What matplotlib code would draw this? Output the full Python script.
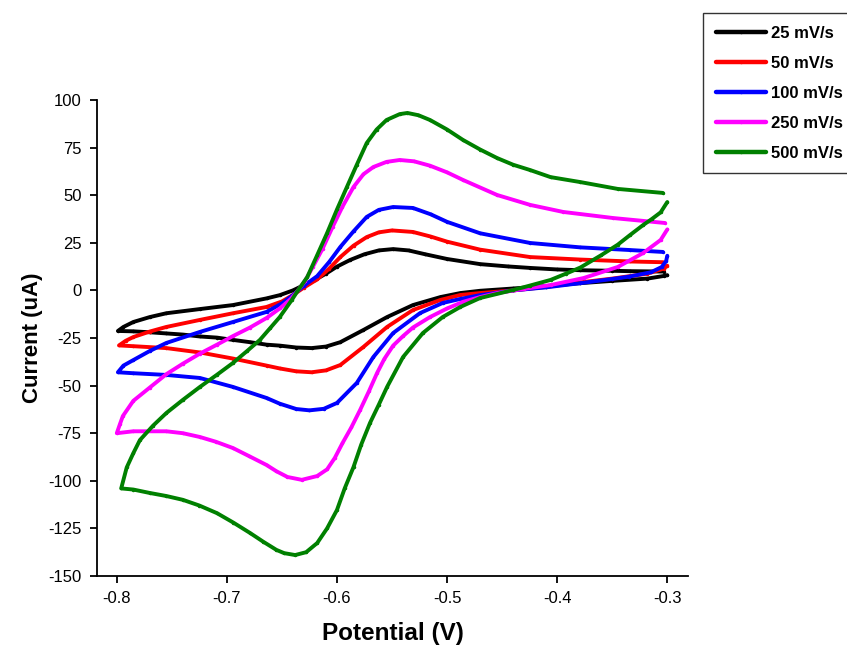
import matplotlib
matplotlib.use('Agg')
import matplotlib.pyplot as plt

# scan rates shown in the legend
labels = ['25 mV/s', '50 mV/s', '100 mV/s', '250 mV/s', '500 mV/s']
colors = ['#000000', '#ff0000', '#0000ff', '#ff00ff', '#008000']

# each scan: reverse sweep (-0.3 -> -0.8) then forward sweep (-0.8 -> -0.3)
v25 = [-0.300, -0.303, -0.318, -0.350, -0.379, -0.403, -0.440, -0.470, -0.488, -0.506, -0.531, -0.5545,
       -0.576, -0.597, -0.610, -0.623, -0.637, -0.652, -0.664, -0.679, -0.6945, -0.709, -0.7245, -0.740,
       -0.755, -0.770, -0.785, -0.799,
       -0.794, -0.785, -0.770, -0.755, -0.7245, -0.6945, -0.664, -0.652, -0.640, -0.630, -0.620, -0.610,
       -0.600, -0.588, -0.575, -0.562, -0.549, -0.535, -0.520, -0.500, -0.470, -0.445, -0.4245, -0.400,
       -0.379, -0.350, -0.334, -0.303]
i25 = [8.0, 7.6, 6.2, 5.0, 3.8, 2.6, 1.0, -0.2, -1.4, -3.5, -7.7, -14.0,
       -20.8, -27.2, -29.5, -30.3, -30.0, -29.0, -28.5, -27.2, -26.0, -24.8, -24.2, -23.2,
       -22.6, -22.0, -21.5, -21.3,
       -19.2, -16.6, -14.0, -12.0, -9.8, -7.7, -4.2, -2.5, 0.0, 2.8, 5.5, 8.8,
       12.5, 16.0, 19.0, 21.0, 21.7, 21.0, 19.0, 16.5, 13.8, 12.6, 11.8, 11.0,
       10.6, 10.3, 10.1, 9.9]

v50 = [-0.300, -0.303, -0.318, -0.350, -0.379, -0.410, -0.440, -0.470, -0.488, -0.506, -0.531, -0.5545,
       -0.576, -0.597, -0.610, -0.623, -0.637, -0.652, -0.664, -0.6945, -0.7245, -0.755, -0.785, -0.798,
       -0.792, -0.785, -0.770, -0.755, -0.7245, -0.6945, -0.664, -0.650, -0.640, -0.630, -0.618, -0.607,
       -0.597, -0.585, -0.573, -0.562, -0.550, -0.531, -0.515, -0.500, -0.470, -0.4245, -0.379, -0.334,
       -0.304]
i50 = [13.0, 11.5, 8.8, 6.2, 4.2, 1.8, 0.0, -1.4, -2.4, -5.0, -10.3, -19.2,
       -29.7, -39.2, -42.0, -43.0, -42.5, -41.0, -39.5, -35.8, -32.6, -30.3, -29.3, -28.9,
       -26.5, -24.5, -21.6, -19.2, -15.5, -12.0, -8.7, -5.8, -2.4, 1.5, 5.8, 11.5,
       17.5, 23.5, 28.0, 30.5, 31.5, 30.7, 28.3, 25.6, 21.4, 17.5, 16.2, 15.2,
       14.8]

v100 = [-0.300, -0.301, -0.305, -0.315, -0.335, -0.350, -0.379, -0.410, -0.440, -0.470, -0.488, -0.504,
        -0.5245, -0.549, -0.567, -0.582, -0.600, -0.612, -0.625, -0.637, -0.652, -0.664, -0.6945, -0.7245,
        -0.755, -0.785, -0.799,
        -0.794, -0.785, -0.770, -0.755, -0.7245, -0.6945, -0.664, -0.650, -0.640, -0.630, -0.618, -0.607,
        -0.597, -0.585, -0.573, -0.562, -0.549, -0.531, -0.515, -0.500, -0.470, -0.4245, -0.379, -0.334,
        -0.304]
i100 = [18.2, 15.5, 12.3, 9.5, 7.2, 6.0, 3.8, 1.6, 0.0, -2.5, -4.5, -6.6,
        -11.9, -22.4, -35.0, -48.6, -59.1, -62.2, -63.0, -62.3, -59.5, -56.5, -50.7, -46.0,
        -44.4, -43.5, -43.0,
        -39.5, -36.6, -31.8, -27.6, -21.8, -16.6, -11.3, -6.8, -2.5, 2.5, 7.5, 15.0,
        22.8, 31.0, 38.6, 42.3, 43.8, 43.3, 40.0, 36.0, 30.0, 24.9, 22.6, 21.2,
        20.2]

v250 = [-0.300, -0.306, -0.322, -0.345, -0.376, -0.406, -0.430, -0.4545, -0.470, -0.4855, -0.500, -0.5155,
        -0.531, -0.540, -0.549, -0.557, -0.5636, -0.571, -0.579, -0.587, -0.595, -0.602, -0.609, -0.618,
        -0.632, -0.645, -0.655, -0.664, -0.680, -0.6945, -0.710, -0.7245, -0.740, -0.755, -0.785, -0.800,
        -0.797, -0.7945, -0.785, -0.770, -0.755, -0.740, -0.7245, -0.709, -0.6945, -0.679, -0.664, -0.652,
        -0.642, -0.636, -0.629, -0.622, -0.613, -0.604, -0.595, -0.585, -0.576, -0.567, -0.555, -0.543,
        -0.530, -0.5155, -0.500, -0.4855, -0.4545, -0.4245, -0.3945, -0.349, -0.302]
i250 = [32.0, 26.5, 19.6, 12.3, 6.5, 2.8, 0.8, -1.4, -3.5, -6.0, -9.5, -14.0,
        -19.5, -24.0, -29.0, -36.0, -43.4, -53.0, -62.8, -72.0, -80.2, -88.0, -94.0, -97.5,
        -99.5, -98.0, -95.0, -91.7, -87.0, -82.8, -79.5, -77.0, -75.0, -74.0, -74.0, -75.0,
        -70.0, -66.0, -58.0, -51.0, -44.0, -38.5, -33.2, -28.5, -24.0, -19.5, -14.5, -9.5,
        -4.5, -0.5, 5.0, 12.3, 22.0, 33.3, 44.0, 54.3, 61.0, 64.8, 67.5, 68.5,
        67.8, 65.5, 62.0, 58.0, 50.1, 44.9, 41.2, 38.0, 35.4]

v500 = [-0.300, -0.306, -0.314, -0.322, -0.334, -0.345, -0.360, -0.379, -0.392, -0.406, -0.425, -0.440,
        -0.470, -0.488, -0.504, -0.522, -0.540, -0.5545, -0.562, -0.570, -0.578, -0.585, -0.593, -0.600,
        -0.609, -0.618, -0.628, -0.638, -0.648, -0.655, -0.667, -0.679, -0.694, -0.709, -0.725, -0.740,
        -0.755, -0.770, -0.785, -0.796,
        -0.791, -0.785, -0.779, -0.767, -0.755, -0.740, -0.7245, -0.709, -0.6945, -0.682, -0.670, -0.661,
        -0.652, -0.641, -0.636, -0.627, -0.618, -0.609, -0.600, -0.591, -0.582, -0.573, -0.564, -0.555,
        -0.543, -0.536, -0.526, -0.5155, -0.500, -0.4855, -0.470, -0.4545, -0.440, -0.4245, -0.406, -0.379,
        -0.345, -0.304]
i500 = [46.4, 41.0, 37.5, 34.3, 29.0, 24.0, 18.5, 12.0, 8.8, 5.5, 2.5, 0.2,
        -4.0, -8.7, -14.0, -22.4, -35.0, -50.7, -60.0, -69.6, -81.0, -92.8, -104.0, -115.3,
        -125.0, -132.7, -137.5, -139.0, -138.0, -136.3, -132.0, -127.4, -122.0, -117.0, -113.0, -110.0,
        -108.0, -106.4, -104.6, -104.0,
        -93.0, -85.5, -78.6, -71.0, -64.4, -57.5, -50.7, -44.3, -38.1, -32.0, -26.0, -20.0,
        -14.0, -5.0, -0.5, 7.0, 18.5, 30.1, 42.5, 54.3, 66.0, 77.4, 84.5, 89.5,
        92.6, 93.2, 92.0, 89.5, 84.5, 79.0, 74.0, 69.5, 66.0, 63.2, 59.5, 56.9,
        53.3, 51.2]

potentials = [v25, v50, v100, v250, v500]
currents = [i25, i50, i100, i250, i500]

plt.rcParams['font.family'] = ['Liberation Sans', 'DejaVu Sans']
plt.rcParams['axes.unicode_minus'] = False

fig = plt.figure(figsize=(8.47, 6.49), dpi=100)
ax = fig.add_axes([0.1145, 0.1125, 0.698, 0.7334])

for v, i, c, lab in zip(potentials, currents, colors, labels):
    ax.plot(v, i, color=c, lw=2.8, marker='o', markersize=1.5, label=lab,
            solid_capstyle='round', solid_joinstyle='round')

ax.set_xlim(-0.818, -0.281)
ax.set_ylim(-150, 100)
ax.set_xticks([-0.8, -0.7, -0.6, -0.5, -0.4, -0.3])
ax.set_xticklabels(['-0.8', '-0.7', '-0.6', '-0.5', '-0.4', '-0.3'])
ax.set_yticks(range(-150, 101, 25))

for s in ['top', 'right']:
    ax.spines[s].set_visible(False)
for s in ['left', 'bottom']:
    ax.spines[s].set_linewidth(1.3)
ax.tick_params(direction='out', length=5, width=1.3, labelsize=12, pad=6)

ax.set_xlabel('Potential (V)', fontsize=17.5, fontweight='bold', labelpad=11)
ax.set_ylabel('Current (uA)', fontsize=16, fontweight='bold')
ax.yaxis.set_label_coords(-0.092, 0.5)

leg = fig.legend(loc='upper left', bbox_to_anchor=(703 / 847, 1 - 13 / 649),
                 prop={'weight': 'bold', 'size': 12}, frameon=True, fancybox=False,
                 handlelength=3.0, handletextpad=0.35, labelspacing=0.9,
                 borderpad=0.75, borderaxespad=0)
leg.get_frame().set_edgecolor('black')
leg.get_frame().set_linewidth(1.0)
for ln in leg.get_lines():
    ln.set_linewidth(3.2)

fig.savefig('out.png', dpi=100)
